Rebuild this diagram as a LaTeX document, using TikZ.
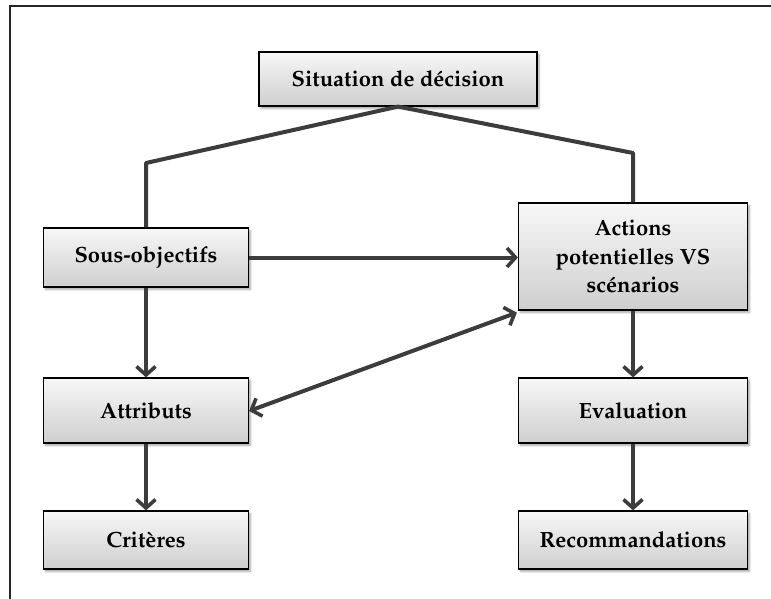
\documentclass[tikz,border=0pt]{standalone}
\usepackage[T1]{fontenc}
\usepackage{mathpazo}
\usepackage{anyfontsize}
\usetikzlibrary{arrows.meta,shadows.blur}
\definecolor{linkgray}{HTML}{3C3C3C}
\tikzset{
  box/.style={draw=black, line width=1.2pt, top color=gray!6, bottom color=gray!38,
    font=\fontsize{22}{28.5}\selectfont\bfseries, align=center, inner sep=0pt,
    blur shadow={shadow xshift=2pt, shadow yshift=-2.5pt, shadow blur steps=6, shadow opacity=35}},
  link/.style={draw=linkgray, line width=4pt, line join=round},
  tip/.tip={Straight Barb[length=8.5pt, width=19pt, line width=3.6pt]},
  arr/.style={link, -tip},
  darr/.style={link, tip-tip},
}
\begin{document}
\begin{tikzpicture}[x=1pt, y=-1pt]
\useasboundingbox (0,0) rectangle (771,599);
% outer frame (top and left edges)
\draw[line width=1.3pt, black!85] (10,599) -- (10,6) -- (771,6);

% boxes
\node[box, minimum width=278pt, minimum height=54pt] (sit) at (398,79) {Situation de d\'ecision};
\node[box, minimum width=205pt, minimum height=59pt] (sous) at (146,257.5) {Sous-objectifs};
\node[box, minimum width=229pt, minimum height=107pt] (act) at (633,256.5) {Actions\\potentielles VS\\sc\'enarios};
\node[box, minimum width=205pt, minimum height=65pt] (attr) at (146,410.5) {Attributs};
\node[box, minimum width=229pt, minimum height=65pt] (eval) at (633,410.5) {Evaluation};
\node[box, minimum width=205pt, minimum height=58pt] (crit) at (146,540) {Crit\`eres};
\node[box, minimum width=229pt, minimum height=58pt] (rec) at (633,540) {Recommandations};

% branches below the top box
\coordinate (kl) at (146,163);
\coordinate (kr) at (633,153);
\draw[link] (sous.north) -- (kl) -- (sit.south) -- (kr) -- (act.north);

% arrows
\draw[arr] (sous.east) -- (sous.east -| act.west);
\draw[arr] (sous.south) -- (attr.north);
\draw[arr] (attr.south) -- (crit.north);
\draw[arr] (act.south) -- (eval.north);
\draw[arr] (eval.south) -- (rec.north);
\draw[darr] ([yshift=-0.5pt]attr.east) -- ([xshift=-1pt,yshift=-2pt]act.south west);
\end{tikzpicture}
\end{document}
